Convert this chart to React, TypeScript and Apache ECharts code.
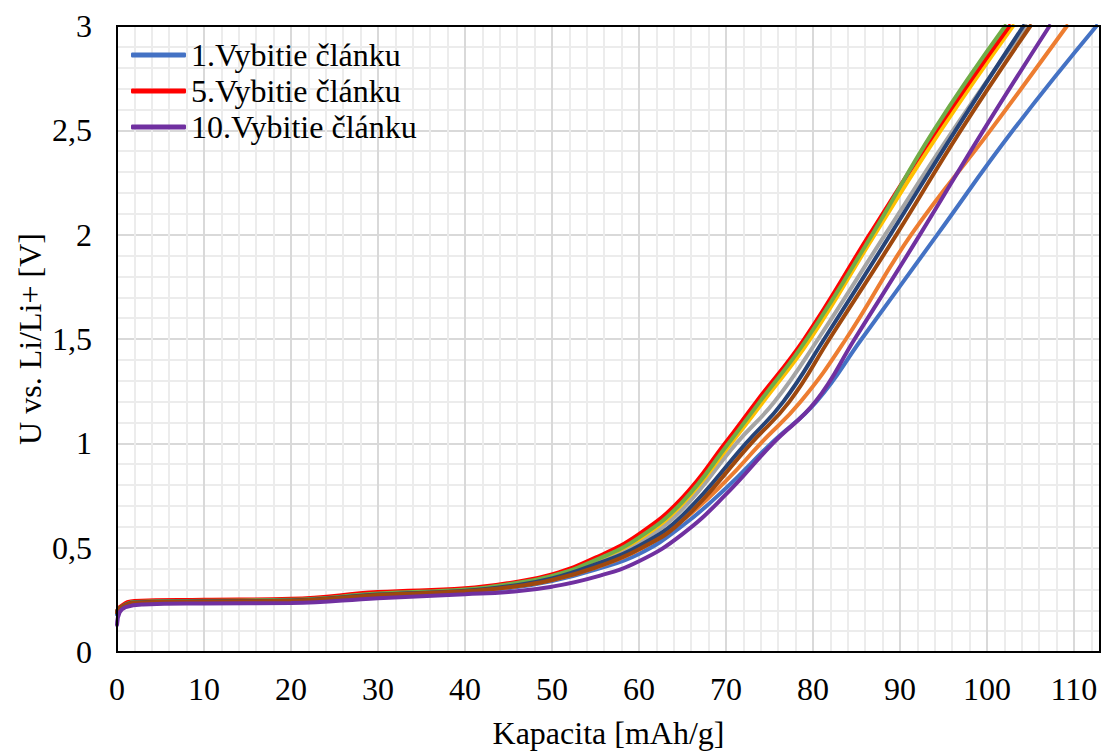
import React, { useEffect, useRef } from "react";
import * as echarts from "echarts";

const FONT = "'Liberation Serif', 'Times New Roman', serif";

const xAxisTitle = "Kapacita [mAh/g]";
const yAxisTitle = "U vs. Li/Li+ [V]";
const legendNames = ["1.Vybitie článku", "5.Vybitie článku", "10.Vybitie článku"];

const names = [
  "1.Vybitie článku",
  "2.Vybitie článku",
  "3.Vybitie článku",
  "4.Vybitie článku",
  "5.Vybitie článku",
  "6.Vybitie článku",
  "7.Vybitie článku",
  "8.Vybitie článku",
  "10.Vybitie článku",
];
const colors = ["#4472C4", "#ED7D31", "#A5A5A5", "#FFC000", "#FF0000", "#70AD47", "#264478", "#9E480E", "#7030A0"];

const cycle1 = [[0,0.18],[0.3,0.205],[2,0.236],[10,0.242],[20,0.247],[30,0.274],[40,0.292],[45,0.305],[50,0.34],[55,0.395],[60,0.47],[65,0.605],[70,0.785],[75.2,1.0],[80.4,1.2],[85.6,1.5],[94.3,2.0],[103.0,2.5],[112.6,3.0]];
const cycle2 = [[0,0.19],[0.3,0.21],[2,0.237],[10,0.243],[20,0.247],[30,0.274],[40,0.292],[45,0.31],[50,0.345],[55,0.405],[60,0.49],[65,0.63],[70,0.82],[74.0,1.0],[78.6,1.2],[83.8,1.5],[91.3,2.0],[100.4,2.5],[109.2,3.0]];
const cycle3 = [[0,0.19],[0.3,0.21],[2,0.238],[10,0.244],[20,0.248],[30,0.276],[40,0.295],[45,0.32],[50,0.36],[55,0.43],[60,0.525],[65,0.685],[71.2,1.0],[75.6,1.2],[80.6,1.5],[88.3,2.0],[96.1,2.5],[104.5,3.0]];
const cycle4 = [[0,0.19],[0.3,0.21],[2,0.238],[10,0.244],[20,0.248],[30,0.278],[40,0.298],[45,0.322],[50,0.362],[55,0.44],[60,0.54],[65,0.71],[70.6,1.0],[74.3,1.2],[79.7,1.5],[87.1,2.0],[94.7,2.5],[103.0,3.0]];
const cycle5 = [[0,0.19],[0.3,0.215],[2,0.245],[10,0.25],[20,0.255],[30,0.287],[40,0.305],[45,0.33],[50,0.372],[55,0.452],[60,0.565],[65,0.74],[69.9,1.0],[73.5,1.2],[79.0,1.5],[86.5,2.0],[94.2,2.5],[102.6,3.0]];
const cycle6 = [[0,0.19],[0.3,0.21],[2,0.24],[10,0.246],[20,0.25],[30,0.28],[40,0.3],[45,0.325],[50,0.365],[55,0.44],[60,0.548],[65,0.72],[70.3,1.0],[73.9,1.2],[79.3,1.5],[86.8,2.0],[93.9,2.5],[102.1,3.0]];
const cycle7 = [[0,0.19],[0.3,0.21],[2,0.237],[10,0.243],[20,0.247],[30,0.275],[40,0.293],[45,0.315],[50,0.352],[55,0.42],[60,0.508],[65,0.655],[72.3,1.0],[76.6,1.2],[81.3,1.5],[88.9,2.0],[96.4,2.5],[104.2,3.0]];
const cycle8 = [[0,0.19],[0.3,0.21],[2,0.236],[10,0.242],[20,0.246],[30,0.273],[40,0.291],[45,0.31],[50,0.345],[55,0.405],[60,0.492],[65,0.63],[72.9,1.0],[77.3,1.2],[81.9,1.5],[89.6,2.0],[97.0,2.5],[105.0,3.0]];
const cycle10 = [[0,0.13],[0.3,0.19],[1,0.215],[3,0.228],[10,0.233],[20,0.235],[30,0.258],[40,0.277],[45,0.288],[50,0.313],[55,0.36],[60,0.435],[65,0.565],[70,0.755],[75.4,1.0],[80.3,1.2],[84.8,1.5],[92.3,2.0],[99.6,2.5],[107.2,3.0]];

const allData = [cycle1, cycle2, cycle3, cycle4, cycle5, cycle6, cycle7, cycle8, cycle10];

const X_MAX = 113;
const Y_MAX = 3;

const GRID = { left: 117, right: 3, top: 26, bottom: 99 };

export default function App() {
  const ref = useRef<HTMLDivElement>(null);
  useEffect(() => {
    if (!ref.current) return;
    const chart = echarts.init(ref.current, undefined, { renderer: "svg" });
    const plotW = 1103 - GRID.left - GRID.right;
    const plotH = 751 - GRID.top - GRID.bottom;
    chart.setOption({
      animation: false,
      backgroundColor: "#ffffff",
      textStyle: { fontFamily: FONT },
      grid: {
        ...GRID,
        containLabel: false,
        outerBoundsMode: "none",
        show: true,
        borderColor: "#000",
        borderWidth: 2,
        backgroundColor: "transparent",
      },
      legend: {
        data: legendNames,
        orient: "vertical",
        left: 126,
        top: 34,
        itemWidth: 55,
        itemHeight: 5,
        itemGap: 4,
        icon: "roundRect",
        textStyle: { fontFamily: FONT, fontSize: 32, color: "#000", lineHeight: 32 },
      },
      xAxis: [
        {
          type: "value",
          position: "bottom",
          min: 0,
          max: X_MAX,
          interval: 2,
          axisLabel: { show: false },
          axisTick: { show: false },
          axisLine: { show: false },
          splitLine: { show: true, lineStyle: { color: "#ececec", width: 2 } },
        },
        {
          type: "value",
          position: "bottom",
          offset: 0,
          min: 0,
          max: X_MAX,
          interval: 10,
          axisLabel: {
            show: true,
            fontFamily: FONT,
            fontSize: 32,
            color: "#000",
            margin: 21,
            showMaxLabel: false,
            formatter: (v: number) => (v % 10 === 0 ? String(v) : ""),
          },
          axisTick: { show: false },
          axisLine: { show: true, lineStyle: { color: "#000", width: 2 } },
          splitLine: { show: true, lineStyle: { color: "#d9d9d9", width: 2 } },
        },
      ],
      yAxis: {
        type: "value",
        min: 0,
        max: Y_MAX,
        interval: 0.5,
        axisLabel: {
          fontFamily: FONT,
          fontSize: 32,
          color: "#000",
          margin: 25,
          formatter: (v: number) => String(v).replace(".", ","),
        },
        axisTick: { show: false },
        axisLine: { show: true, lineStyle: { color: "#000", width: 2 } },
        minorTick: { show: false, splitNumber: 5 },
        minorSplitLine: { show: true, lineStyle: { color: "#ececec", width: 2 } },
        splitLine: { show: true, lineStyle: { color: "#d9d9d9", width: 2 } },
      },
      series: allData.map((d, i) => ({
        name: names[i],
        type: "line",
        xAxisIndex: 1,
        data: d,
        showSymbol: false,
        symbol: "none",
        smooth: 0.45,
        color: colors[i],
        lineStyle: { color: colors[i], width: 4, cap: "round" },
      })),
      graphic: [
        {
          type: "rect",
          z: 100,
          silent: true,
          shape: { x: GRID.left, y: GRID.top, width: plotW, height: plotH },
          style: { fill: "transparent", stroke: "#000", lineWidth: 2 },
        },
        {
          type: "text",
          x: GRID.left + plotW / 2,
          y: 733,
          style: {
            text: xAxisTitle,
            fontFamily: FONT,
            fontSize: 32,
            fill: "#000",
            textAlign: "center",
            textVerticalAlign: "middle",
          },
        },
        {
          type: "text",
          x: 30,
          y: GRID.top + plotH / 2,
          rotation: Math.PI / 2,
          style: {
            text: yAxisTitle,
            fontFamily: FONT,
            fontSize: 32,
            fill: "#000",
            textAlign: "center",
            textVerticalAlign: "middle",
          },
        },
      ],
    });
    return () => chart.dispose();
  }, []);
  return (
    <div
      ref={ref}
      style={{ position: "fixed", left: 0, top: 0, width: 1103, height: 751, background: "#fff" }}
    />
  );
}
